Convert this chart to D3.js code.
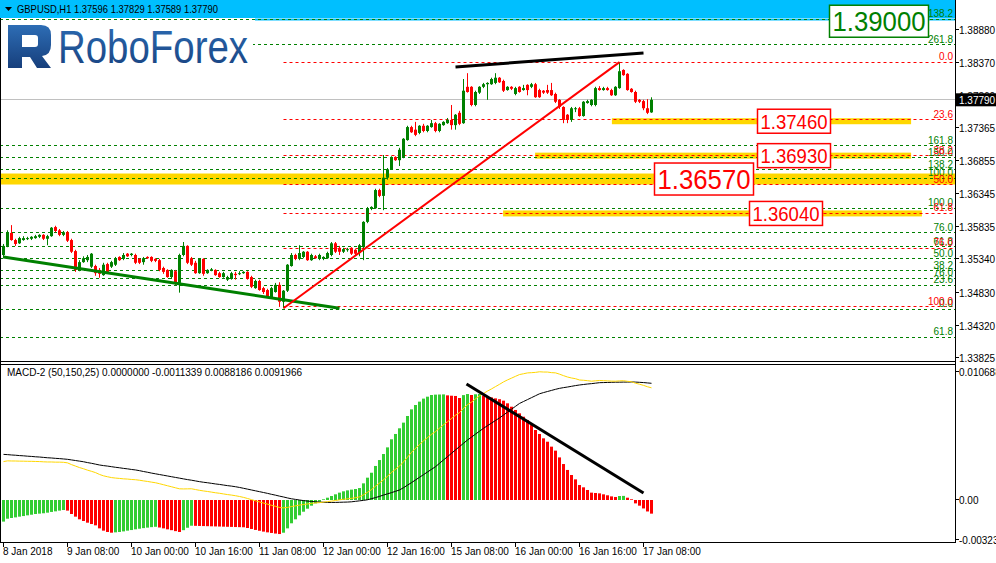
<!DOCTYPE html>
<html>
<head>
<meta charset="utf-8">
<script src="https://cdn.jsdelivr.net/npm/d3@7"></script>
<style>
  body { margin: 0; background: #fff; }
  text { font-family: "Liberation Sans", Arial, sans-serif; }
</style>
</head>
<body>
<script>
// GBPUSD H1 chart with fibo levels and MACD-2

var W = 996, H = 563;
var plotRight = 955;
var mainBottom = 362, macdTop = 364, macdBottom = 542;

// ---- data ----
const timeTicks = [0, 16, 32, 48, 64, 80, 96, 112, 128, 144, 160];
const timeLabels = ["8 Jan 2018", "9 Jan 08:00", "10 Jan 00:00", "10 Jan 16:00", "11 Jan 08:00",
  "12 Jan 00:00", "12 Jan 16:00", "15 Jan 08:00", "16 Jan 00:00", "16 Jan 16:00", "17 Jan 08:00"];

const opens = [1.3540,1.3554,1.3574,1.3563,1.3558,1.3563,1.3565,1.3565,1.3566,1.3568,1.3571,1.3565,1.3569,1.3583,1.3578,1.3571,1.3575,1.3563,1.3546,1.3517,
  1.3529,1.3532,1.3522,1.3523,1.3517,1.3509,1.3526,1.3522,1.3525,1.3537,1.3534,1.3542,1.3540,1.3540,1.3534,1.3529,1.3537,1.3537,1.3534,1.3532,
  1.3520,1.3517,1.3506,1.3515,1.3497,1.3540,1.3554,1.3535,1.3528,1.3512,1.3534,1.3512,1.3517,1.3517,1.3512,1.3506,1.3502,1.3503,1.3511,1.3511,
  1.3512,1.3514,1.3506,1.3489,1.3500,1.3489,1.3486,1.3475,1.3483,1.3494,1.3468,1.3485,1.3523,1.3540,1.3534,1.3537,1.3545,1.3532,1.3538,1.3534,
  1.3534,1.3535,1.3540,1.3558,1.3551,1.3545,1.3548,1.3551,1.3548,1.3543,1.3552,1.3591,1.3611,1.3612,1.3640,1.3631,1.3659,1.3672,1.3691,1.3686,
  1.3691,1.3717,1.3737,1.3733,1.3728,1.3739,1.3731,1.3737,1.3743,1.3731,1.3740,1.3743,1.3748,1.3740,1.3759,1.3743,1.3799,1.3799,1.3771,1.3790,
  1.3799,1.3803,1.3803,1.3805,1.3813,1.3808,1.3794,1.3799,1.3788,1.3799,1.3794,1.3802,1.3799,1.3803,1.3794,1.3793,1.3794,1.3794,1.3788,1.3779,
  1.3768,1.3756,1.3748,1.3765,1.3766,1.3754,1.3774,1.3771,1.3771,1.3797,1.3794,1.3797,1.3794,1.3786,1.3797,1.3825,1.3819,1.3796,1.3791,1.3779,
  1.3777,1.3766,1.37596];
const highs = [1.3557,1.3578,1.3586,1.3565,1.3568,1.3569,1.3568,1.3569,1.3571,1.3572,1.3572,1.3571,1.3583,1.3585,1.3580,1.3577,1.3577,1.3565,1.3548,1.3532,
  1.3538,1.3540,1.3543,1.3525,1.3520,1.3528,1.3528,1.3531,1.3537,1.3538,1.3543,1.3543,1.3543,1.3542,1.3535,1.3537,1.3538,1.3538,1.3535,1.3534,
  1.3522,1.3518,1.3518,1.3517,1.3542,1.3560,1.3555,1.3537,1.3531,1.3535,1.3535,1.3518,1.3520,1.3518,1.3514,1.3514,1.3508,1.3514,1.3514,1.3515,
  1.3515,1.3515,1.3508,1.3502,1.3502,1.3491,1.3488,1.3491,1.3497,1.3498,1.3486,1.3526,1.3543,1.3542,1.3555,1.3546,1.3546,1.3542,1.3540,1.3542,
  1.3538,1.3545,1.3560,1.3560,1.3554,1.3551,1.3551,1.3552,1.3549,1.3557,1.3592,1.3614,1.3615,1.3642,1.3642,1.3694,1.3674,1.3692,1.3692,1.3705,
  1.3720,1.3739,1.3739,1.3745,1.3740,1.3742,1.3740,1.3748,1.3745,1.3743,1.3746,1.3751,1.3771,1.3757,1.3762,1.3811,1.3820,1.3800,1.3793,1.3800,
  1.3805,1.3806,1.3813,1.3820,1.3814,1.3810,1.3800,1.3800,1.3799,1.3800,1.3802,1.3803,1.3805,1.3805,1.3796,1.3794,1.3802,1.3805,1.3790,1.3780,
  1.3769,1.3757,1.3768,1.3768,1.3768,1.3777,1.3779,1.3780,1.3799,1.3800,1.3799,1.3799,1.3796,1.3800,1.3837,1.3826,1.3820,1.3797,1.3793,1.3780,
  1.3779,1.3780,1.37829];
const lows = [1.3535,1.3552,1.3562,1.3554,1.3557,1.3562,1.3563,1.3563,1.3565,1.3566,1.3563,1.3555,1.3568,1.3575,1.3569,1.3569,1.3560,1.3543,1.3514,1.3515,
  1.3528,1.3529,1.3520,1.3508,1.3505,1.3508,1.3512,1.3520,1.3523,1.3531,1.3532,1.3537,1.3538,1.3526,1.3526,1.3525,1.3534,1.3529,1.3529,1.3515,
  1.3511,1.3505,1.3503,1.3494,1.3482,1.3538,1.3526,1.3523,1.3511,1.3511,1.3508,1.3511,1.3515,1.3508,1.3505,1.3505,1.3500,1.3502,1.3502,1.3509,
  1.3511,1.3502,1.3489,1.3488,1.3485,1.3480,1.3474,1.3474,1.3482,1.3460,1.3458,1.3483,1.3522,1.3532,1.3532,1.3535,1.3531,1.3531,1.3534,1.3532,
  1.3532,1.3534,1.3538,1.3543,1.3540,1.3543,1.3545,1.3540,1.3540,1.3538,1.3532,1.3589,1.3609,1.3611,1.3629,1.3609,1.3656,1.3671,1.3685,1.3677,
  1.3689,1.3716,1.3728,1.3723,1.3726,1.3729,1.3729,1.3736,1.3729,1.3729,1.3739,1.3742,1.3733,1.3733,1.3740,1.3742,1.3790,1.3769,1.3769,1.3788,
  1.3797,1.3779,1.3802,1.3803,1.3805,1.3791,1.3793,1.3794,1.3786,1.3790,1.3793,1.3786,1.3797,1.3782,1.3782,1.3788,1.3788,1.3785,1.3774,1.3765,
  1.3743,1.3743,1.3745,1.3760,1.3753,1.3753,1.3773,1.3769,1.3769,1.3793,1.3793,1.3793,1.3785,1.3785,1.3796,1.3816,1.3793,1.3790,1.3774,1.3774,
  1.3763,1.3757,1.37589];
const closes = [1.3554,1.3574,1.3563,1.3557,1.3566,1.3566,1.3566,1.3568,1.3569,1.3571,1.3565,1.3569,1.3582,1.3577,1.3571,1.3575,1.3562,1.3545,1.3517,1.3529,
  1.3535,1.3537,1.3542,1.3512,1.3511,1.3525,1.3514,1.3529,1.3535,1.3532,1.3540,1.3538,1.3542,1.3528,1.3528,1.3535,1.3535,1.3531,1.3531,1.3517,
  1.3514,1.3506,1.3517,1.3497,1.3540,1.3554,1.3528,1.3525,1.3512,1.3534,1.3511,1.3517,1.3518,1.3509,1.3506,1.3512,1.3506,1.3512,1.3509,1.3512,
  1.3514,1.3503,1.3491,1.3500,1.3486,1.3483,1.3475,1.3489,1.3494,1.3468,1.3485,1.3525,1.3540,1.3534,1.3543,1.3545,1.3532,1.3540,1.3535,1.3540,
  1.3537,1.3543,1.3558,1.3545,1.3545,1.3549,1.3549,1.3542,1.3542,1.3555,1.3591,1.3612,1.3614,1.3640,1.3631,1.3659,1.3672,1.3691,1.3686,1.3702,
  1.3719,1.3737,1.3729,1.3725,1.3739,1.3731,1.3739,1.3743,1.3731,1.3742,1.3745,1.3748,1.3740,1.3756,1.3742,1.3793,1.3791,1.3771,1.3791,1.3799,
  1.3803,1.3805,1.3811,1.3813,1.3806,1.3793,1.3799,1.3796,1.3797,1.3791,1.3797,1.3794,1.3803,1.3783,1.3783,1.3790,1.3790,1.3786,1.3776,1.3768,
  1.3748,1.3748,1.3766,1.3766,1.3754,1.3776,1.3777,1.3779,1.3797,1.3794,1.3797,1.3794,1.3786,1.3799,1.3823,1.3817,1.3794,1.3791,1.3776,1.3776,
  1.3766,1.3759,1.37790];

// MACD-2 (50,150,25): histogram and signal line, in units of 0.0001
const histE4 = [-17.9,-15.5,-14.9,-14.4,-13.8,-13.3,-12.7,-12.2,-11.6,-11.3,-11.0,-10.5,-9.9,-9.4,-8.8,-8.3,
  -8.8,-11.6,-13.8,-16.0,-17.4,-18.8,-19.9,-21.0,-23.5,-25.4,-26.5,-27.1,
  -26.8,-26.5,-26.0,-25.4,-24.9,-24.3,-23.8,-23.3,-22.9,-22.5,-22.2,
  -22.8,-23.5,-24.3,-25.0,-25.8,-26.5,
  -25.0,-23.0,-21.3,
  -21.4,-21.5,-21.6,-21.7,-21.8,-21.9,-22.0,-22.1,-22.2,-22.3,-22.4,-22.5,-22.6,
  -23.2,-24.0,-24.8,-25.5,-26.2,-26.8,-27.3,-27.8,-28.2,
  -27.1,-23.5,-19.3,-16.0,-12.7,-9.7,-7.2,-4.7,-2.8,-1.4,
  0.6,1.9,3.3,4.7,6.1,7.2,8.0,8.6,9.1,9.9,
  13.8,18.5,22.6,28.2,33.1,38.1,43.6,50.3,54.7,59.4,64.1,69.6,75.1,78.7,81.5,84.0,85.6,87.0,87.3,87.4,87.5,
  86.7,86.4,86.2,84.5,86.9,87.8,87.0,87.6,87.9,86.5,86.0,85.0,84.2,83.5,
  82.3,80.1,77.3,74.6,71.8,69.0,66.3,62.1,58.0,54.7,51.1,48.3,44.2,40.9,35.3,29.8,24.9,20.7,17.1,12.4,
  10.5,8.3,6.1,5.8,5.5,4.7,3.9,3.0,2.5,3.3,3.4,1.9,0.6,-2.8,-4.7,-7.0,-9.5,-11.3];
const signalE4 = [37.8,37.6,37.3,37.1,36.8,36.6,36.3,36.1,35.8,35.6,35.3,35.0,34.8,34.5,34.3,34.0,33.7,
  33.2,32.7,32.2,31.7,31.0,30.4,29.7,29.0,
  28.5,28.1,27.6,27.1,26.7,26.2,25.8,25.3,24.9,
  24.3,23.6,23.0,22.3,21.7,21.1,20.5,19.9,
  19.3,18.7,18.1,17.5,16.9,16.4,15.8,15.2,
  14.7,14.3,13.8,13.3,12.9,12.4,11.9,11.5,11.0,
  10.4,9.7,9.0,8.3,7.6,6.9,6.2,5.5,
  4.7,4.0,3.2,2.5,1.7,1.0,
  0.5,0.0,-0.5,-0.9,-1.2,-1.5,
  -1.7,-1.9,-2.0,-2.0,-2.0,-1.9,-1.8,-1.7,-1.5,
  -1.1,-0.7,-0.3,0.2, 1.1,2.0,3.0,4.1, 5.1,6.1,7.2,8.3, 10.2,12.3,14.4,16.6,
  18.8,21.0,23.2,25.4,27.6, 30.4,33.2,35.9,38.7, 41.5,44.2,47.0,49.7,
  52.1,54.6,57.0,59.4, 61.6,63.7,65.9,68.0, 70.4,72.8,75.2,77.6,80.0,
  81.6,83.2,84.8,86.4,88.0, 89.0,89.9,90.8,91.7,92.5, 93.1,93.6,94.2,94.8,95.3,
  95.7,96.1,96.4,96.8,97.2, 97.3,97.4,97.5,97.6,97.6,97.7,97.7,97.8,
  97.7,97.5,97.3,97.0,96.7];

// price axis
const priceTicks = [1.38880, 1.38370, 1.37860, 1.37365, 1.36855, 1.36345, 1.35835, 1.35340, 1.34830, 1.34320, 1.33825];
const macdTicks = [0.010688, 0.0, -0.003237];
const macdTickLabels = ["0.010688", "0.00", "-0.003237"];

// fibonacci grids: [price at 0%, price at 100%]
const fibRed = [1.3837, 1.3460];
const fibRedLevels = [0, 23.6, 38.2, 50, 61.8, 76, 100];
const fibGreenA = [1.34564, 1.36119];
const fibGreenALevels = [0, 23.6, 38.2, 50, 61.8, 76, 100, 138.2, 150, 161.8, 261.8];
const fibGreenB = [1.3017, 1.3658];
const fibGreenBLevels = [0, 23.6, 38.2, 50, 61.8, 76, 100, 138.2, 161.8];

// highlighted levels (yellow bands and boxes)
const keyLevels = [1.39000, 1.37460, 1.36930, 1.36570, 1.36040];
const bandFrom = [null, 152.1, 132.9, -1, 124.9];
const bandTo = [null, 226.9, 226.9, 238, 229.6];

// trend lines: [barIndex, price]
const trendGreen = [[0, 1.3537], [84, 1.3458]];
const trendRed = [[70, 1.3458], [154, 1.3837]];
const trendBlack = [[113, 1.38295], [160, 1.3851]];
const trendMacd = [[115.75, 0.00961], [160, 0.00058]];

const lastPrice = 1.37790;

// ---- scales ----
var x = d3.scaleLinear().domain([0, 162]).range([3.5, 651.5]);
var y = d3.scaleLinear().domain([1.33752, 1.39327]).range([mainBottom, 0]);
var yM = d3.scaleLinear().domain([-0.00348, 0.011268]).range([macdBottom, macdTop]);
var crisp = v => Math.round(v - 0.5) + 0.5;

var svg = d3.select("body").append("svg").attr("width", W).attr("height", H);
var defs = svg.append("defs");
defs.append("clipPath").attr("id", "clipMain").append("rect")
  .attr("x", 0).attr("y", 0).attr("width", plotRight).attr("height", mainBottom);
defs.append("clipPath").attr("id", "clipMacd").append("rect")
  .attr("x", 0).attr("y", macdTop).attr("width", plotRight).attr("height", macdBottom - macdTop);
defs.append("clipPath").attr("id", "clipAxis").append("rect")
  .attr("x", plotRight).attr("y", 0).attr("width", W - plotRight).attr("height", mainBottom);

svg.append("rect").attr("width", W).attr("height", H).attr("fill", "#fff");

var main = svg.append("g").attr("clip-path", "url(#clipMain)");

// cyan strip at the top
main.append("rect").attr("x", 0).attr("y", 0).attr("width", plotRight).attr("height", 18).attr("fill", "#00bfff");
main.append("line").attr("x1", 255).attr("x2", plotRight).attr("y1", 19.5).attr("y2", 19.5)
  .attr("stroke", "#00bfff").attr("stroke-width", 2);

// yellow bands
keyLevels.forEach((lv, i) => {
  if (bandFrom[i] === null) return;
  var th = i === 3 ? 11 : 6;
  main.append("rect")
    .attr("x", x(bandFrom[i])).attr("width", x(bandTo[i]) - x(bandFrom[i]))
    .attr("y", y(lv) - th / 2).attr("height", th)
    .attr("fill", "#ffd700");
});

// fibo lines
function fibPrice(f, lv) { return f[0] + (f[1] - f[0]) * lv / 100; }
function drawFib(f, levels, color, x0) {
  levels.forEach(lv => {
    var yy = crisp(y(fibPrice(f, lv)));
    main.append("line").attr("x1", x0).attr("x2", plotRight).attr("y1", yy).attr("y2", yy)
      .attr("stroke", color).attr("stroke-dasharray", "3,3");
  });
}
drawFib(fibGreenB, fibGreenBLevels, "#008000", 0);
drawFib(fibGreenA, fibGreenALevels, "#008000", 0);
drawFib(fibRed, fibRedLevels, "#ff0000", x(70));

// current price line
main.append("line").attr("x1", 0).attr("x2", plotRight)
  .attr("y1", crisp(y(lastPrice))).attr("y2", crisp(y(lastPrice)))
  .attr("stroke", "#c0c0c0");

// candles
var candles = main.append("g").selectAll("g").data(closes).enter().append("g");
candles.append("line")
  .attr("x1", (d, i) => x(i)).attr("x2", (d, i) => x(i))
  .attr("y1", (d, i) => y(highs[i])).attr("y2", (d, i) => y(lows[i]))
  .attr("stroke", (d, i) => d >= opens[i] ? "#008000" : "#ff0000");
candles.append("rect")
  .attr("x", (d, i) => x(i) - 1.5).attr("width", 3)
  .attr("y", (d, i) => Math.min(y(opens[i]), y(d)))
  .attr("height", (d, i) => Math.max(1, Math.abs(y(opens[i]) - y(d))))
  .attr("fill", (d, i) => d >= opens[i] ? "#008000" : "#ff0000");

// trend lines
function trend(g, pts, ys, color, w) {
  g.append("line")
    .attr("x1", x(pts[0][0])).attr("y1", ys(pts[0][1]))
    .attr("x2", x(pts[1][0])).attr("y2", ys(pts[1][1]))
    .attr("stroke", color).attr("stroke-width", w);
}
trend(main, trendGreen, y, "#008000", 3);
trend(main, trendRed, y, "#ff0000", 2);
trend(main, trendBlack, y, "#000", 3);

// logo
var logo = main.append("g");
logo.append("rect").attr("x", 0).attr("y", 22).attr("width", 253).attr("height", 45).attr("fill", "#fff");
var grad = defs.append("linearGradient").attr("id", "logoGrad").attr("x1", 0).attr("y1", 0).attr("x2", 0).attr("y2", 1);
grad.append("stop").attr("offset", "0%").attr("stop-color", "#2d6db5");
grad.append("stop").attr("offset", "100%").attr("stop-color", "#173f7c");
logo.append("path")
  .attr("d", "M8,25 H41 Q51,25 51,35 V45 Q51,55 42,56 L51,68 H37 L30,57 H22 V68 H8 Z M22,35 V47 H35 Q38,47 38,44 V38 Q38,35 35,35 Z")
  .attr("fill", "url(#logoGrad)").attr("fill-rule", "evenodd");
logo.append("text").attr("x", 58).attr("y", 63).attr("font-family", "Roboto, sans-serif")
  .attr("font-size", 46).attr("textLength", 190).attr("lengthAdjust", "spacingAndGlyphs")
  .attr("fill", "url(#logoGrad)").text("RoboForex");

// fibo labels
function fibLabels(f, levels, color) {
  levels.forEach(lv => {
    main.append("text").attr("x", 953).attr("y", y(fibPrice(f, lv)) - 2)
      .attr("text-anchor", "end").attr("font-size", 10).attr("fill", color)
      .text(lv.toFixed(1));
  });
}
fibLabels(fibGreenB, fibGreenBLevels, "#008000");
fibLabels(fibGreenA, fibGreenALevels, "#008000");
fibLabels(fibRed, fibRedLevels, "#ff0000");

// level boxes
var boxCx = [879, 794, 794, 704, 786];
var boxW = [99, 73, 73, 99, 73];
var boxH = [32, 24, 24, 32, 24];
var boxFs = [28, 21, 21, 28, 21];
keyLevels.forEach((lv, i) => {
  var col = i === 0 ? "#008000" : "#ff0000";
  var cy = y(lv);
  main.append("rect").attr("x", boxCx[i] - boxW[i] / 2).attr("y", cy - boxH[i] / 2)
    .attr("width", boxW[i]).attr("height", boxH[i])
    .attr("fill", "#fff").attr("stroke", col).attr("stroke-width", 1.5);
  main.append("text").attr("x", boxCx[i]).attr("y", cy + boxFs[i] * 0.36)
    .attr("text-anchor", "middle").attr("font-size", boxFs[i]).attr("fill", col)
    .attr("textLength", boxW[i] - 6).attr("lengthAdjust", "spacingAndGlyphs")
    .text(lv.toFixed(5));
});

// header
svg.append("path").attr("d", "M5,7 L12,7 L8.5,11 Z").attr("fill", "#000");
svg.append("text").attr("x", 17).attr("y", 13).attr("font-size", 11)
  .attr("textLength", 201).attr("lengthAdjust", "spacingAndGlyphs")
  .text("GBPUSD,H1  1.37596 1.37829 1.37589 1.37790");

// ---- MACD panel ----
var macd = svg.append("g").attr("clip-path", "url(#clipMacd)");
var hist = histE4.map(v => v * 1e-4);
var signal = signalE4.map(v => v * 1e-4);
var mainLine = signal.map((s, i) => s + hist[i] / 3);

macd.append("g").selectAll("rect").data(hist).enter().append("rect")
  .attr("x", (d, i) => x(i) - 1.5).attr("width", 3)
  .attr("y", d => Math.min(yM(d), yM(0)))
  .attr("height", d => Math.abs(yM(d) - yM(0)))
  .attr("fill", (d, i) => (i === 0 || d >= hist[i - 1]) ? "#32cd32" : "#ff0000");

var lineGen = d3.line().x((d, i) => x(i)).y(d => yM(d));
macd.append("path").datum(signal).attr("d", lineGen).attr("fill", "none").attr("stroke", "#000");
macd.append("path").datum(mainLine).attr("d", lineGen).attr("fill", "none").attr("stroke", "#ffd700");
trend(macd, trendMacd, yM, "#000", 3);

svg.append("text").attr("x", 7).attr("y", 376).attr("font-size", 10)
  .text("MACD-2 (50,150,25) 0.0000000 -0.0011339 0.0088186 0.0091966");

// ---- axes and frames ----
var frame = svg.append("g").attr("stroke", "#000").attr("fill", "none");
frame.append("line").attr("x1", 0.5).attr("x2", 0.5).attr("y1", 18).attr("y2", macdBottom);
frame.append("line").attr("x1", plotRight + 0.5).attr("x2", plotRight + 0.5).attr("y1", 0).attr("y2", macdBottom + 1);
frame.append("line").attr("x1", 0).attr("x2", plotRight).attr("y1", mainBottom - 0.5).attr("y2", mainBottom - 0.5);
frame.append("line").attr("x1", 0).attr("x2", plotRight).attr("y1", macdTop + 0.5).attr("y2", macdTop + 0.5);
frame.append("line").attr("x1", 0).attr("x2", plotRight).attr("y1", macdBottom + 0.5).attr("y2", macdBottom + 0.5);

var axisG = svg.append("g").attr("clip-path", "url(#clipAxis)");
priceTicks.forEach(p => {
  var yy = crisp(y(p));
  axisG.append("line").attr("x1", plotRight).attr("x2", plotRight + 4).attr("y1", yy).attr("y2", yy).attr("stroke", "#000");
  axisG.append("text").attr("x", 959).attr("y", yy + 4).attr("font-size", 10).text(p.toFixed(5));
});
// current price tag
svg.append("rect").attr("x", 956).attr("y", y(lastPrice) - 6.5).attr("width", 40).attr("height", 13).attr("fill", "#000");
svg.append("text").attr("x", 959).attr("y", y(lastPrice) + 4).attr("font-size", 10).attr("fill", "#fff")
  .text(lastPrice.toFixed(5));

macdTicks.forEach((v, i) => {
  var yy = crisp(yM(v));
  svg.append("line").attr("x1", plotRight).attr("x2", plotRight + 4).attr("y1", yy).attr("y2", yy).attr("stroke", "#000");
  svg.append("text").attr("x", 959).attr("y", yy + 4).attr("font-size", 10).text(macdTickLabels[i]);
});

timeTicks.forEach((t, i) => {
  var xx = crisp(x(t));
  svg.append("line").attr("x1", xx).attr("x2", xx).attr("y1", macdBottom).attr("y2", macdBottom + 5).attr("stroke", "#000");
  svg.append("text").attr("x", xx - 0.5).attr("y", 555).attr("font-size", 10).text(timeLabels[i]);
});
</script>
</body>
</html>
